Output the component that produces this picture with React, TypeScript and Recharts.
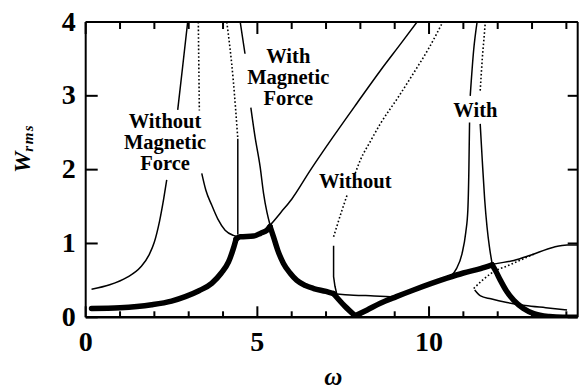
import React from 'react';
import { LineChart, Line, XAxis, YAxis, ReferenceDot } from 'recharts';

// ---------- axes ----------
const X_MAX = 14.33;
const xTickValues = [0, 1, 2, 3, 4, 5, 6, 7, 8, 9, 10, 11, 12, 13, 14];
const xMajorTicks = [0, 5, 10];
const yTickValues = [0, 1, 2, 3, 4];

// ---------- curves ([omega, Wrms]; null = gap under a label) ----------
const withoutRiseLeft = [[0.17, 0.38], [0.7, 0.44], [1.2, 0.54], [1.6, 0.68], [1.85, 0.85], [2.0, 1.02], [2.15, 1.3], [2.27, 1.6], [2.36, 1.86], [2.5, null], [2.68, 2.81], [2.82, 3.38], [2.97, 4.0]];
const withoutUnstableLeft = [[3.28, 4.0], [3.31, 2.8]];
const withoutFallLeft = [[3.38, 1.95], [3.5, 1.72], [3.67, 1.52], [3.85, 1.33], [4.06, 1.18], [4.3, 1.11], [4.5, 1.09], [4.7, 1.1], [5.0, 1.13], [5.2, 1.18], [5.37, 1.25], [5.7, 1.43], [6.0, 1.6], [6.54, 1.99], [7.2, 2.44], [7.9, 2.9], [8.58, 3.34], [9.2, 3.72], [9.65, 4.0]];
const withUnstableLeft = [[4.11, 4.0], [4.3, 3.2], [4.43, 2.42]];
const withJumpLeft = [[4.43, 2.42], [4.43, 1.12]];
const withFallLeft = [[4.5, 4.0], [4.64, 3.57], [4.72, null], [4.81, 2.84], [4.93, 2.45], [5.08, 2.04], [5.18, 1.68], [5.28, 1.42], [5.37, 1.25]];

const thickRise = [[0.17, 0.12], [1.0, 0.13], [1.92, 0.17], [2.5, 0.22], [2.9, 0.28], [3.3, 0.36], [3.67, 0.46], [3.95, 0.6], [4.16, 0.75], [4.3, 0.93], [4.38, 1.06]];
const thickPlateau = [[4.38, 1.06], [4.5, 1.09], [4.89, 1.1], [5.1, 1.14], [5.28, 1.18], [5.37, 1.23]];
const thickFall = [[5.37, 1.23], [5.47, 1.09], [5.6, 0.9], [5.76, 0.73], [5.95, 0.6], [6.15, 0.5], [6.4, 0.43], [6.64, 0.39], [7.0, 0.35], [7.22, 0.32]];
const thickDip = [[7.22, 0.32], [7.55, 0.15], [7.85, 0.02]];
const thickClimb = [[7.85, 0.02], [8.2, 0.1], [8.58, 0.19], [9.05, 0.28], [9.55, 0.37], [10.52, 0.53], [11.0, 0.6], [11.5, 0.66], [11.84, 0.71]];
const thickDecay = [[11.84, 0.71], [11.95, 0.62], [12.08, 0.5], [12.25, 0.36], [12.47, 0.23], [12.75, 0.12], [13.05, 0.05], [13.5, 0.01], [13.9, 0.0], [14.33, 0.0]];

const withoutUnstableRight = [[7.22, 1.09], [7.3, 1.21], [7.45, 1.43], [7.61, 1.65], [7.73, null], [7.85, 1.95], [8.0, 2.13], [8.3, 2.39], [8.58, 2.62], [9.1, 2.98], [9.58, 3.33], [10.0, 3.65], [10.4, 4.0]];
const withoutJumpRight = [[7.22, 0.97], [7.22, 0.55], [7.26, 0.42], [7.32, 0.3]];
const withoutLowerRight = [[7.22, 0.32], [7.8, 0.3], [8.4, 0.29], [8.87, 0.28], [9.3, 0.32], [9.55, 0.37], [10.52, 0.54], [11.5, 0.67], [11.88, 0.72], [12.47, 0.77], [12.95, 0.84], [13.63, 0.95], [14.02, 0.98], [14.33, 0.98]];
const withoutUnstableTail = [[11.3, 0.39], [11.55, 0.5], [11.79, 0.59], [12.4, 0.72], [13.05, 0.855]];
const withLowerTail = [[11.33, 0.37], [11.5, 0.29], [11.8, 0.25], [12.27, 0.2], [12.8, 0.16], [13.4, 0.13], [14.02, 0.1]];
const withRiseRight = [[10.62, 0.55], [10.8, 0.66], [10.96, 0.86], [11.07, 1.15], [11.13, 1.45], [11.16, 1.99], [11.18, 2.64], [11.19, null], [11.2, 3.0], [11.3, 3.62], [11.4, 4.0]];
const withFallRight = [[11.49, 2.62], [11.55, 2.13], [11.62, 1.6], [11.69, 1.22], [11.76, 0.95], [11.84, 0.72]];
const withUnstableRight = [[11.49, 3.07], [11.55, 3.5], [11.64, 4.0]];

// ---------- annotations ----------
const annotations = [
  { x: 2.31, y: 2.56, lines: ['Without', 'Magnetic', 'Force'] },
  { x: 5.9, y: 3.45, lines: ['With', 'Magnetic', 'Force'] },
  { x: 7.85, y: 1.75, lines: ['Without'] },
  { x: 11.35, y: 2.71, lines: ['With'] },
];

const toPts = (arr) => arr.map(([x, y]) => ({ x, y }));

const THIN = { stroke: '#000', strokeWidth: 1.5, type: 'monotone' };
const STRAIGHT = { stroke: '#000', strokeWidth: 1.5, type: 'linear' };
const DOTTED = { stroke: '#000', strokeWidth: 1.6, type: 'linear', strokeDasharray: '1.6 2.2' };
const DOTTED_SMOOTH = { ...DOTTED, type: 'monotone' };
const THICK = { stroke: '#000', strokeWidth: 5.5, type: 'monotone', strokeLinecap: 'round', strokeLinejoin: 'round' };

const series = [
  { d: withoutRiseLeft, s: THIN },
  { d: withoutUnstableLeft, s: DOTTED },
  { d: withoutFallLeft, s: THIN },
  { d: withUnstableLeft, s: DOTTED_SMOOTH },
  { d: withJumpLeft, s: STRAIGHT },
  { d: withFallLeft, s: THIN },
  { d: thickRise, s: THICK },
  { d: thickPlateau, s: THICK },
  { d: thickFall, s: THICK },
  { d: thickDip, s: THICK },
  { d: thickClimb, s: THICK },
  { d: thickDecay, s: THICK },
  { d: withoutUnstableRight, s: DOTTED_SMOOTH },
  { d: withoutJumpRight, s: STRAIGHT },
  { d: withoutLowerRight, s: THIN },
  { d: withoutUnstableTail, s: DOTTED_SMOOTH },
  { d: withLowerTail, s: THIN },
  { d: withRiseRight, s: THIN },
  { d: withFallRight, s: THIN },
  { d: withUnstableRight, s: DOTTED },
];

const SERIF = '"Liberation Serif", "Times New Roman", serif';

const BottomTick = (props) => {
  const { x, y, payload } = props;
  const v = payload.value;
  const major = xMajorTicks.includes(v);
  return (
    <g>
      <line x1={x} y1={y} x2={x} y2={y - (major ? 11 : 6)} stroke="#000" strokeWidth={2} />
      {major && (
        <text x={x} y={y + 34} textAnchor="middle" fontFamily={SERIF} fontWeight="bold" fontSize={28} fill="#000">
          {v}
        </text>
      )}
    </g>
  );
};

const TopTick = (props) => {
  const { x, y, payload } = props;
  const major = xMajorTicks.includes(payload.value);
  return <line x1={x} y1={y} x2={x} y2={y + (major ? 12 : 7)} stroke="#000" strokeWidth={2} />;
};

const LeftTick = (props) => {
  const { x, y, payload } = props;
  return (
    <g>
      <line x1={x} y1={y} x2={x + 12} y2={y} stroke="#000" strokeWidth={2} />
      <text x={x - 10} y={y + 8.5} textAnchor="end" fontFamily={SERIF} fontWeight="bold" fontSize={28} fill="#000">
        {payload.value}
      </text>
    </g>
  );
};

const RightTick = (props) => {
  const { x, y } = props;
  return <line x1={x} y1={y} x2={x - 10} y2={y} stroke="#000" strokeWidth={2} />;
};

const Annot = (props) => {
  const { viewBox, lines } = props;
  const cx = viewBox.x + viewBox.width / 2;
  const cy = viewBox.y + viewBox.height / 2;
  return (
    <text x={cx} y={cy} textAnchor="middle" fontFamily={SERIF} fontWeight="bold" fontSize={20.5} fill="#000">
      {lines.map((l, i) => (
        <tspan key={i} x={cx} dy={i === 0 ? 0 : 21}>
          {l}
        </tspan>
      ))}
    </text>
  );
};

const YLabel = (props) => {
  const { viewBox } = props;
  const x = viewBox.x + 30;
  const y = viewBox.y + 151;
  return (
    <text transform={`translate(${x},${y}) rotate(-90)`} textAnchor="start" fontFamily={SERIF} fontWeight="bold" fontStyle="italic" fill="#000">
      <tspan fontSize={24}>W</tspan>
      <tspan fontSize={15} dy={3} letterSpacing={1.5}>rms</tspan>
    </text>
  );
};

const XLabel = (props) => {
  const { viewBox } = props;
  const x = viewBox.x + viewBox.width / 2 + 1.5;
  const y = viewBox.y + 68;
  return (
    <text x={x} y={y} textAnchor="middle" fontFamily={SERIF} fontWeight="bold" fontStyle="italic" fontSize={25} fill="#000">
      ω
    </text>
  );
};

export default function App() {
  return (
    <div style={{ position: 'absolute', left: 0, top: 0, width: 584, height: 391, background: '#fff' }}>
      <LineChart width={584} height={391} margin={{ top: 0, right: 0, bottom: 0, left: 0 }}>
        <XAxis
          xAxisId="b"
          dataKey="x"
          type="number"
          domain={[0, X_MAX]}
          allowDataOverflow
          ticks={xTickValues}
          interval={0}
          height={73.7}
          tickSize={0}
          tickMargin={0}
          tickLine={false}
          tick={<BottomTick />}
          axisLine={{ stroke: '#000', strokeWidth: 2.5 }}
          label={<XLabel />}
        />
        <XAxis
          xAxisId="t"
          orientation="top"
          dataKey="x"
          type="number"
          domain={[0, X_MAX]}
          allowDataOverflow
          ticks={xTickValues}
          interval={0}
          height={22}
          tickSize={0}
          tickMargin={0}
          tickLine={false}
          tick={<TopTick />}
          axisLine={{ stroke: '#000', strokeWidth: 2 }}
        />
        <YAxis
          yAxisId="l"
          type="number"
          domain={[0, 4]}
          allowDataOverflow
          ticks={yTickValues}
          interval={0}
          width={85.7}
          tickSize={0}
          tickMargin={0}
          tickLine={false}
          tick={<LeftTick />}
          axisLine={{ stroke: '#000', strokeWidth: 2 }}
          label={<YLabel />}
        />
        <YAxis
          yAxisId="r"
          orientation="right"
          type="number"
          domain={[0, 4]}
          allowDataOverflow
          ticks={yTickValues}
          interval={0}
          width={6.3}
          tickSize={0}
          tickMargin={0}
          tickLine={false}
          tick={<RightTick />}
          axisLine={{ stroke: '#000', strokeWidth: 2 }}
        />
        {series.map((item, i) => (
          <Line
            key={i}
            xAxisId="b"
            yAxisId="l"
            data={toPts(item.d)}
            dataKey="y"
            dot={false}
            activeDot={false}
            connectNulls={false}
            isAnimationActive={false}
            legendType="none"
            {...item.s}
          />
        ))}
        {annotations.map((a, i) => (
          <ReferenceDot
            key={`a${i}`}
            xAxisId="b"
            yAxisId="l"
            x={a.x}
            y={a.y}
            r={1}
            fill="none"
            stroke="none"
            ifOverflow="visible"
            label={(p) => <Annot {...p} lines={a.lines} />}
          />
        ))}
      </LineChart>
    </div>
  );
}
